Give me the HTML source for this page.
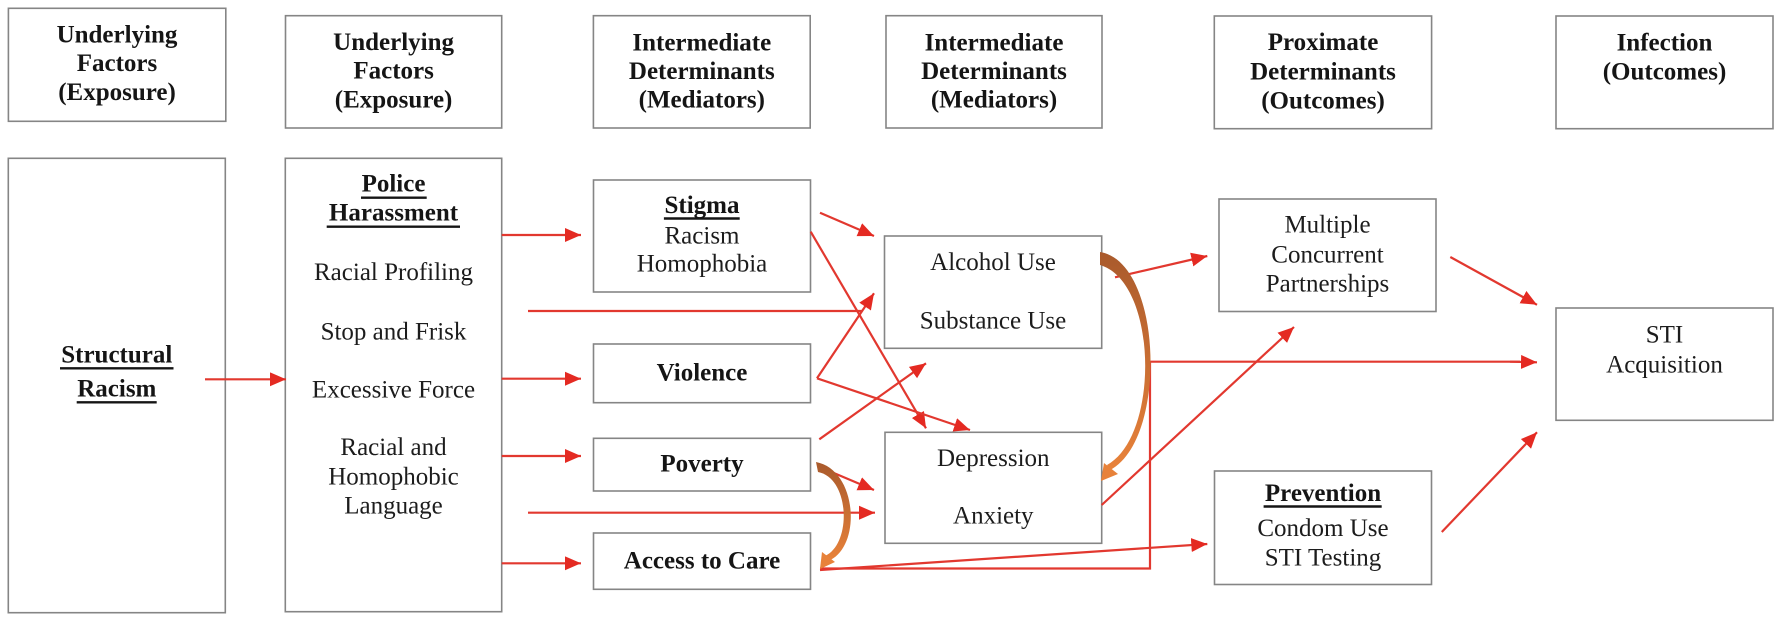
<!DOCTYPE html>
<html>
<head>
<meta charset="utf-8">
<style>
  html, body { margin: 0; padding: 0; background: #ffffff; }
  svg { display: block; }
  .b { font-family: "Liberation Serif", "Times New Roman", serif; font-size: 25px; font-weight: bold; fill: #151515; }
  .r { font-family: "Liberation Serif", "Times New Roman", serif; font-size: 25px; fill: #1c1c1c; }
  .box { fill: #ffffff; stroke: #858585; stroke-width: 1.6; }
  .ln { stroke: #e2382f; stroke-width: 2.2; fill: none; }
  .ul { stroke: #151515; stroke-width: 2.4; }
</style>
</head>
<body>
<svg width="1782" height="622" viewBox="0 0 1782 622" xmlns="http://www.w3.org/2000/svg">
  <defs>
    <marker id="ah" markerUnits="userSpaceOnUse" markerWidth="18" markerHeight="16" refX="16" refY="7" orient="auto">
      <path d="M0,0 L16,7 L0,14 Z" fill="#e42a22"/>
    </marker>
    <linearGradient id="br1" x1="0" y1="0" x2="0" y2="1">
      <stop offset="0" stop-color="#a95a2c"/>
      <stop offset="1" stop-color="#e8823a"/>
    </linearGradient>
    <linearGradient id="br2" x1="0" y1="0" x2="0" y2="1">
      <stop offset="0" stop-color="#a95a2c"/>
      <stop offset="1" stop-color="#e8823a"/>
    </linearGradient>
  </defs>

  <rect width="1782" height="622" fill="#ffffff"/>

  <!-- Header boxes -->
  <rect class="box" x="8.4" y="8.3" width="217.4" height="113"/>
  <rect class="box" x="285.5" y="15.7" width="216.2" height="112.3"/>
  <rect class="box" x="593.4" y="15.7" width="216.8" height="112.3"/>
  <rect class="box" x="886" y="15.7" width="216" height="112.3"/>
  <rect class="box" x="1214.3" y="16" width="217.3" height="112.7"/>
  <rect class="box" x="1556" y="16" width="217" height="112.7"/>

  <text class="b" text-anchor="middle" x="117" y="42.7">Underlying</text>
  <text class="b" text-anchor="middle" x="117" y="71">Factors</text>
  <text class="b" text-anchor="middle" x="117" y="100">(Exposure)</text>

  <text class="b" text-anchor="middle" x="393.6" y="50">Underlying</text>
  <text class="b" text-anchor="middle" x="393.6" y="78.5">Factors</text>
  <text class="b" text-anchor="middle" x="393.6" y="107.3">(Exposure)</text>

  <text class="b" text-anchor="middle" x="701.8" y="50.7">Intermediate</text>
  <text class="b" text-anchor="middle" x="701.8" y="79">Determinants</text>
  <text class="b" text-anchor="middle" x="701.8" y="107.3">(Mediators)</text>

  <text class="b" text-anchor="middle" x="994" y="50.7">Intermediate</text>
  <text class="b" text-anchor="middle" x="994" y="79">Determinants</text>
  <text class="b" text-anchor="middle" x="994" y="107.3">(Mediators)</text>

  <text class="b" text-anchor="middle" x="1323" y="50">Proximate</text>
  <text class="b" text-anchor="middle" x="1323" y="79.5">Determinants</text>
  <text class="b" text-anchor="middle" x="1323" y="108.5">(Outcomes)</text>

  <text class="b" text-anchor="middle" x="1664.5" y="50.5">Infection</text>
  <text class="b" text-anchor="middle" x="1664.5" y="79.5">(Outcomes)</text>

  <!-- Body boxes -->
  <rect class="box" x="8.3" y="158.3" width="217" height="454.4"/>
  <rect class="box" x="285.3" y="158.3" width="216.4" height="453.4"/>
  <rect class="box" x="593.5" y="180" width="217" height="112"/>
  <rect class="box" x="593.5" y="344" width="217" height="58.7"/>
  <rect class="box" x="593.5" y="438.3" width="217" height="52.7"/>
  <rect class="box" x="593.5" y="533" width="217" height="56.3"/>
  <rect class="box" x="884.5" y="236" width="217.2" height="112.3"/>
  <rect class="box" x="885" y="432.3" width="216.7" height="111"/>
  <rect class="box" x="1219" y="199" width="217" height="112.5"/>
  <rect class="box" x="1214.5" y="471" width="217" height="113.5"/>
  <rect class="box" x="1556" y="308" width="217" height="112.3"/>

  <!-- Structural Racism -->
  <text class="b" text-anchor="middle" x="116.8" y="362.3">Structural</text>
  <line class="ul" x1="60" y1="368.3" x2="173.5" y2="368.3"/>
  <text class="b" text-anchor="middle" x="116.8" y="396.3">Racism</text>
  <line class="ul" x1="76.7" y1="402.3" x2="156.7" y2="402.3"/>

  <!-- Police Harassment -->
  <text class="b" text-anchor="middle" x="393.5" y="191.7">Police</text>
  <line class="ul" x1="361" y1="197.7" x2="426.7" y2="197.7"/>
  <text class="b" text-anchor="middle" x="393.5" y="220.7">Harassment</text>
  <line class="ul" x1="326.7" y1="226.7" x2="460" y2="226.7"/>
  <text class="r" text-anchor="middle" x="393.5" y="280">Racial Profiling</text>
  <text class="r" text-anchor="middle" x="393.5" y="339.3">Stop and Frisk</text>
  <text class="r" text-anchor="middle" x="393.5" y="397.7">Excessive Force</text>
  <text class="r" text-anchor="middle" x="393.5" y="455">Racial and</text>
  <text class="r" text-anchor="middle" x="393.5" y="484.3">Homophobic</text>
  <text class="r" text-anchor="middle" x="393.5" y="513.3">Language</text>

  <!-- Stigma etc -->
  <text class="b" text-anchor="middle" x="702" y="213">Stigma</text>
  <line class="ul" x1="663.9" y1="218.5" x2="739.7" y2="218.5"/>
  <text class="r" text-anchor="middle" x="702" y="243.3">Racism</text>
  <text class="r" text-anchor="middle" x="702" y="271.7">Homophobia</text>
  <text class="b" text-anchor="middle" x="702" y="380.5">Violence</text>
  <text class="b" text-anchor="middle" x="702" y="471.7">Poverty</text>
  <text class="b" text-anchor="middle" x="702" y="568.3">Access to Care</text>

  <text class="r" text-anchor="middle" x="993" y="270">Alcohol Use</text>
  <text class="r" text-anchor="middle" x="993" y="328.3">Substance Use</text>
  <text class="r" text-anchor="middle" x="993.3" y="466">Depression</text>
  <text class="r" text-anchor="middle" x="993.3" y="523.3">Anxiety</text>

  <text class="r" text-anchor="middle" x="1327.5" y="232.7">Multiple</text>
  <text class="r" text-anchor="middle" x="1327.5" y="262.3">Concurrent</text>
  <text class="r" text-anchor="middle" x="1327.5" y="291.7">Partnerships</text>

  <text class="b" text-anchor="middle" x="1323" y="501">Prevention</text>
  <line class="ul" x1="1263.6" y1="506.5" x2="1381.7" y2="506.5"/>
  <text class="r" text-anchor="middle" x="1323" y="535.9">Condom Use</text>
  <text class="r" text-anchor="middle" x="1323" y="565.7">STI Testing</text>

  <text class="r" text-anchor="middle" x="1664.5" y="342.6">STI</text>
  <text class="r" text-anchor="middle" x="1664.5" y="372.5">Acquisition</text>

  <!-- Connectors -->
  <line class="ln" x1="205" y1="379.3" x2="286" y2="379.3" marker-end="url(#ah)"/>
  <line class="ln" x1="501.7" y1="235" x2="581" y2="235" marker-end="url(#ah)"/>
  <line class="ln" x1="528" y1="311" x2="862" y2="311"/>
  <line class="ln" x1="501.7" y1="378.7" x2="581" y2="378.7" marker-end="url(#ah)"/>
  <line class="ln" x1="501.7" y1="456" x2="581" y2="456" marker-end="url(#ah)"/>
  <line class="ln" x1="528" y1="512.7" x2="875" y2="512.7" marker-end="url(#ah)"/>
  <line class="ln" x1="501.7" y1="563.3" x2="581" y2="563.3" marker-end="url(#ah)"/>

  <line class="ln" x1="820" y1="212.7" x2="874" y2="236" marker-end="url(#ah)"/>
  <line class="ln" x1="810.7" y1="231.7" x2="926" y2="428.3" marker-end="url(#ah)"/>
  <line class="ln" x1="817" y1="378.3" x2="874" y2="293.3" marker-end="url(#ah)"/>
  <line class="ln" x1="817" y1="378.3" x2="970" y2="430" marker-end="url(#ah)"/>
  <line class="ln" x1="819.3" y1="439.3" x2="926" y2="363.3" marker-end="url(#ah)"/>
  <line class="ln" x1="822" y1="468" x2="874" y2="490" marker-end="url(#ah)"/>

  <polyline class="ln" points="820,568.5 1150,568.5 1150,361.7 1520,361.7"/>
  <line class="ln" x1="1510" y1="361.7" x2="1537" y2="362.3" marker-end="url(#ah)"/>
  <line class="ln" x1="820" y1="570" x2="1207.3" y2="544" marker-end="url(#ah)"/>

  <line class="ln" x1="1115" y1="277.3" x2="1207.3" y2="256" marker-end="url(#ah)"/>
  <line class="ln" x1="1101.7" y1="505" x2="1294" y2="327" marker-end="url(#ah)"/>
  <line class="ln" x1="1450.3" y1="257" x2="1537" y2="304.8" marker-end="url(#ah)"/>
  <line class="ln" x1="1441.8" y1="532" x2="1537" y2="432.3" marker-end="url(#ah)"/>

  <!-- Brown curved arrows -->
  <path d="M1100,252 C1163,262 1168,440 1110,470 L1107,465 C1160,436 1158,282 1100,265 Z" fill="url(#br1)"/>
  <polygon points="1101,481 1104,463 1118,474" fill="#e8823a"/>

  <path d="M816,462 C858,470 862,548 828,561 L825,556 C852,544 850,478 818,472 Z" fill="url(#br2)"/>
  <polygon points="820,569 822,552 835,562" fill="#e8823a"/>
</svg>
</body>
</html>
